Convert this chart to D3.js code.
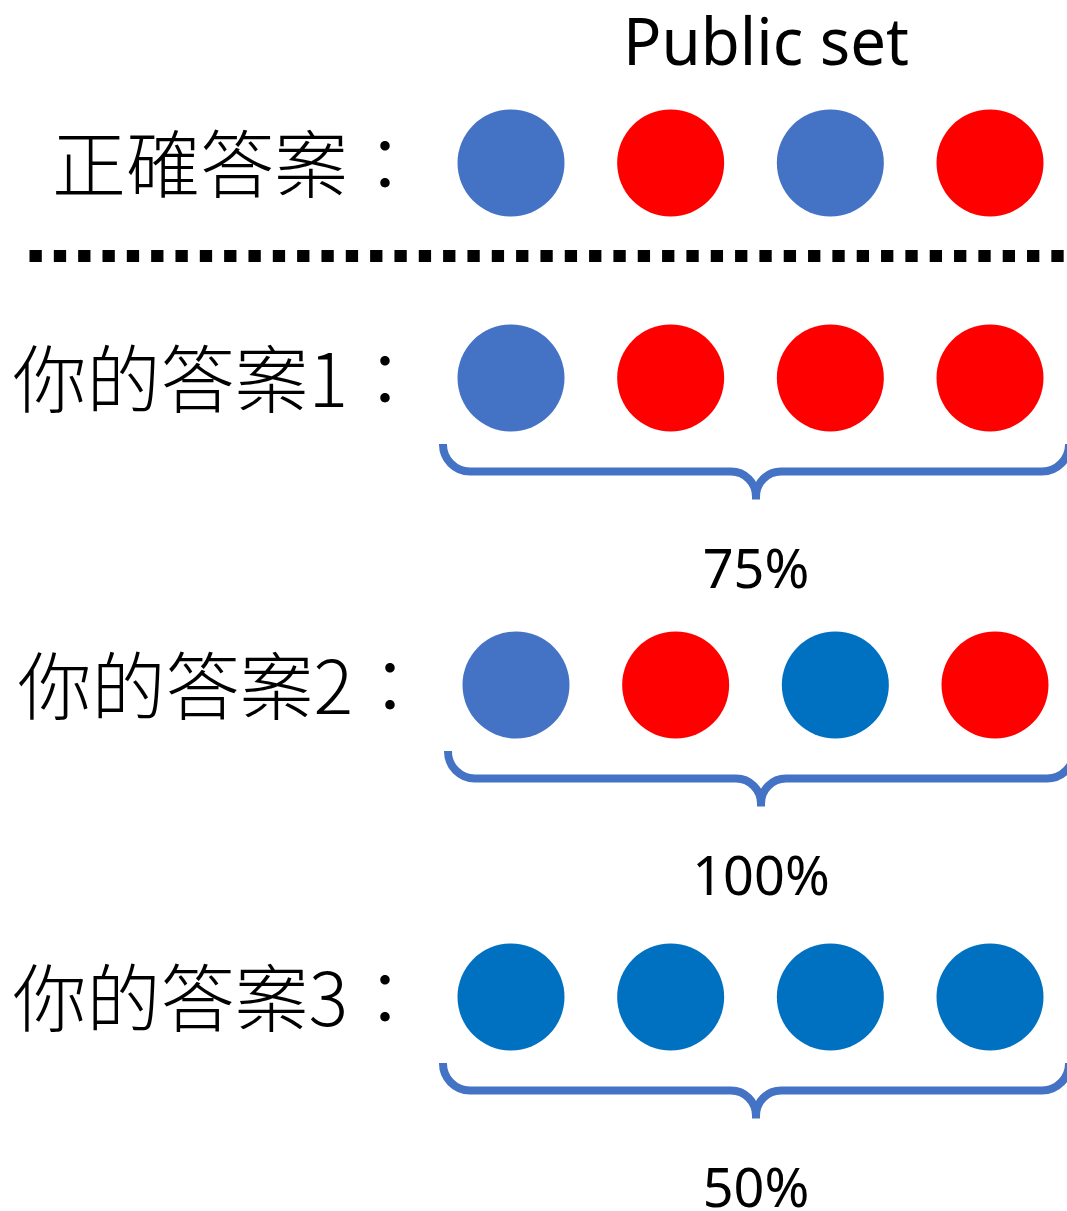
<!DOCTYPE html>
<html>
<head>
<meta charset="utf-8">
<script src="https://cdn.jsdelivr.net/npm/d3@7"></script>
<style>
  html, body { margin: 0; padding: 0; background: #ffffff; }
  svg { display: block; }
</style>
</head>
<body>
<script>
// ---------- data ----------
const title = "Public set";
const rowLabels = ["正確答案：", "你的答案1：", "你的答案2：", "你的答案3："];
const rowColors = [
  ["blue", "red", "blue", "red"],
  ["blue", "red", "red", "red"],
  ["blue", "red", "dark", "red"],
  ["dark", "dark", "dark", "dark"]
];
const accuracies = [null, "75%", "100%", "50%"];
const palette = { blue: "#4472C4", red: "#FF0000", dark: "#0070C0" };

// ---------- layout ----------
const W = 1067, H = 1211;
const rowY = [163, 378, 685, 997];
const rowShift = [0, 0, 5, 0];
const R = 53.5;

const svg = d3.select("body").append("svg").attr("width", W).attr("height", H);

const x = d3.scalePoint().domain(d3.range(4)).range([511, 990]);
const cjk = "'Noto Sans CJK TC', 'Noto Sans CJK SC', sans-serif";

// title
svg.append("text")
  .attr("x", 766).attr("y", 65)
  .attr("text-anchor", "middle")
  .attr("font-family", "'Noto Sans', sans-serif")
  .attr("font-size", 66)
  .attr("textLength", 286)
  .attr("lengthAdjust", "spacingAndGlyphs")
  .attr("fill", "#000")
  .text(title);

// dotted separator
svg.append("line")
  .attr("x1", 29.5).attr("x2", W).attr("y1", 256).attr("y2", 256)
  .attr("stroke", "#000").attr("stroke-width", 12)
  .attr("stroke-dasharray", "12.3 12.03");

const rows = svg.selectAll("g.row").data(rowLabels.map((l, i) => ({ label: l, i })))
  .join("g").attr("class", "row")
  .attr("transform", d => `translate(${rowShift[d.i]},${rowY[d.i]})`);

rows.append("text")
  .attr("x", 422).attr("y", -4)
  .attr("text-anchor", "end")
  .attr("dominant-baseline", "central")
  .attr("font-family", cjk)
  .attr("font-weight", 300)
  .attr("font-size", 74)
  .attr("fill", "#000")
  .text(d => d.label);

rows.selectAll("circle")
  .data(d => rowColors[d.i].map((c, j) => ({ c, j })))
  .join("circle")
  .attr("cx", d => x(d.j)).attr("cy", 0).attr("r", R)
  .attr("fill", d => palette[d.c]);

// braces
function bracePath(x0, x1, yTop) {
  const r1 = 27, r2 = 25;
  const yH = yTop + 27.5;
  const xm = (x0 + x1) / 2;
  return `M${x0},${yTop} A${r1},${r1} 0 0 0 ${x0 + r1},${yH}` +
    ` H${xm - r2} A${r2},${r2} 0 0 1 ${xm},${yH + r2} V${yH + 28}` +
    ` M${xm},${yH + r2} A${r2},${r2} 0 0 1 ${xm + r2},${yH}` +
    ` H${x1 - r1} A${r1},${r1} 0 0 0 ${x1},${yTop}`;
}

const bx0 = x(0) - R - 14.5, bx1 = x(3) + R + 25.5;
const withAcc = rows.filter(d => accuracies[d.i] !== null);
withAcc.append("path")
  .attr("d", bracePath(bx0, bx1, 66))
  .attr("fill", "none")
  .attr("stroke", "#4472C4")
  .attr("stroke-width", 8);

withAcc.append("text")
  .attr("x", (bx0 + bx1) / 2)
  .attr("y", 210)
  .attr("text-anchor", "middle")
  .attr("font-family", "'Noto Sans', sans-serif")
  .attr("font-size", 54)
  .attr("fill", "#000")
  .text(d => accuracies[d.i]);
</script>
</body>
</html>
